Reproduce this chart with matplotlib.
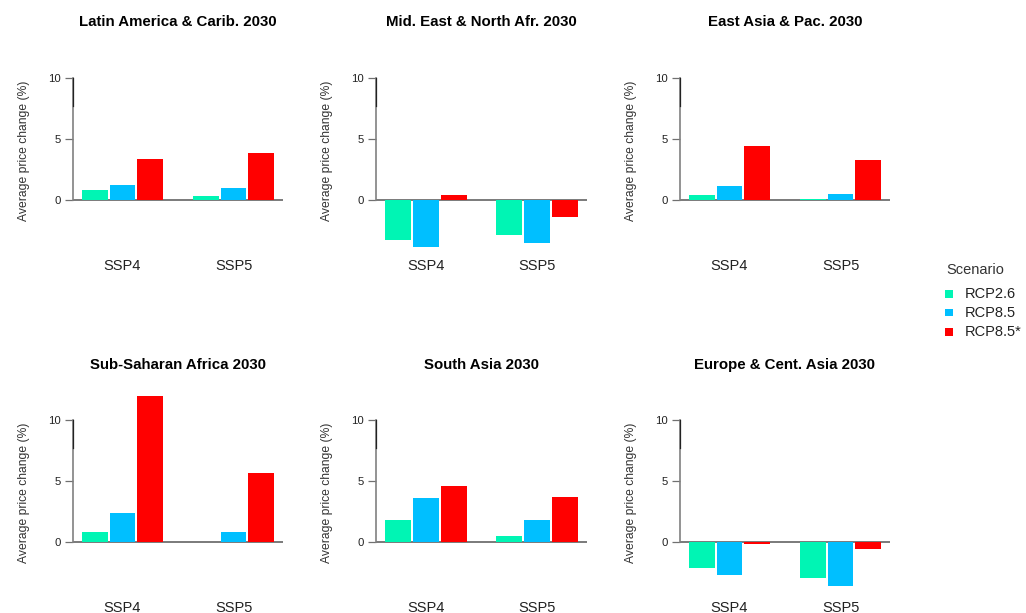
import matplotlib
matplotlib.use("Agg")
import matplotlib.pyplot as plt
from matplotlib.patches import Rectangle
import numpy as np

plt.rcParams['font.family'] = ['Liberation Sans', 'DejaVu Sans']

regions = ["Latin America & Carib. 2030", "Mid. East & North Afr. 2030", "East Asia & Pac. 2030",
           "Sub-Saharan Africa 2030", "South Asia 2030", "Europe & Cent. Asia 2030"]
ssps = ["SSP4", "SSP5"]
scenarios = ["RCP2.6", "RCP8.5", "RCP8.5*"]
colors = ["#00F5B4", "#00BFFF", "#FF0000"]

# average price change (%) per region: [SSP4, SSP5] for each scenario
rcp26 = [[0.8, 0.3], [-3.3, -2.85], [0.4, 0.05], [0.8, 0.0], [1.8, 0.45], [-2.1, -2.95]]
rcp85 = [[1.25, 1.0], [-3.8, -3.5], [1.15, 0.5], [2.4, 0.8], [3.6, 1.8], [-2.7, -3.6]]
rcp85s = [[3.35, 3.8], [0.4, -1.4], [4.4, 3.25], [11.9, 5.6], [4.6, 3.65], [-0.15, -0.55]]

W, H = 1026, 613
fig = plt.figure(figsize=(W / 100, H / 100), dpi=100)

def px_rect(left, top, right, bottom):
    return [left / W, 1 - bottom / H, (right - left) / W, (bottom - top) / H]

col_left = [73, 376, 680]
col_right = [283, 587, 890]
row_zero = [200, 542]
ppu = 12.25  # pixels per percent
ymin, ymax = -4, 12

for i, name in enumerate(regions):
    r, c = divmod(i, 3)
    z = row_zero[r]
    ax = fig.add_axes(px_rect(col_left[c], z - ymax * ppu, col_right[c], z - ymin * ppu))
    vals = [rcp26[i], rcp85[i], rcp85s[i]]
    for k in range(3):
        xs = np.array([1.5, 5.5]) + k
        ax.bar(xs, vals[k], width=0.93, color=colors[k], edgecolor='none')
    ax.set_xlim(0.72, 8.28)
    ax.set_ylim(ymin, ymax)
    ax.axhline(0, color='#707070', lw=1.3, zorder=0)
    for s in ['top', 'right', 'bottom']:
        ax.spines[s].set_visible(False)
    ax.spines['left'].set_bounds(0, 10)
    ax.spines['left'].set_color('#808080')
    ax.spines['left'].set_linewidth(1.2)
    # darker top end of the axis line
    ax.plot([0.72, 0.72], [7.7, 10], color='#222222', lw=0.9, clip_on=False, zorder=3)
    ax.set_yticks([0, 5, 10])
    ax.set_yticklabels(['0', '5', '10'], fontsize=8.2, color='#222222')
    ax.tick_params(axis='y', length=6, width=0.9, color='#707070', pad=3)
    ax.get_yticklines()[4].set_color('#222222')
    ax.set_xticks([2.5, 6.5])
    ax.set_xticklabels(ssps, fontsize=10.5, color='#222222')
    ax.tick_params(axis='x', length=0, pad=7)
    ax.set_ylabel('Average price change (%)', fontsize=8.7, color='#333333', labelpad=13)
    ax.patch.set_visible(False)
    title_y = [22, 365][r]
    fig.text((col_left[c] + col_right[c]) / 2 / W, 1 - title_y / H, name,
             ha='center', va='center', fontsize=10.8, fontweight='bold')

# legend
fig.text(975 / W, 1 - 270 / H, 'Scenario', ha='center', va='center', fontsize=10.5, color='#333333')
for j, (lab, col) in enumerate(zip(scenarios, colors)):
    yc = 294 + 19 * j
    fig.patches.append(Rectangle((945 / W, 1 - (yc + 3.5) / H), 7.5 / W, 7.5 / H,
                                 transform=fig.transFigure, facecolor=col, edgecolor='none'))
    fig.text(965 / W, 1 - yc / H, lab, ha='left', va='center', fontsize=10.5, color='#222222')

fig.savefig('out.png', dpi=100, facecolor='white')
